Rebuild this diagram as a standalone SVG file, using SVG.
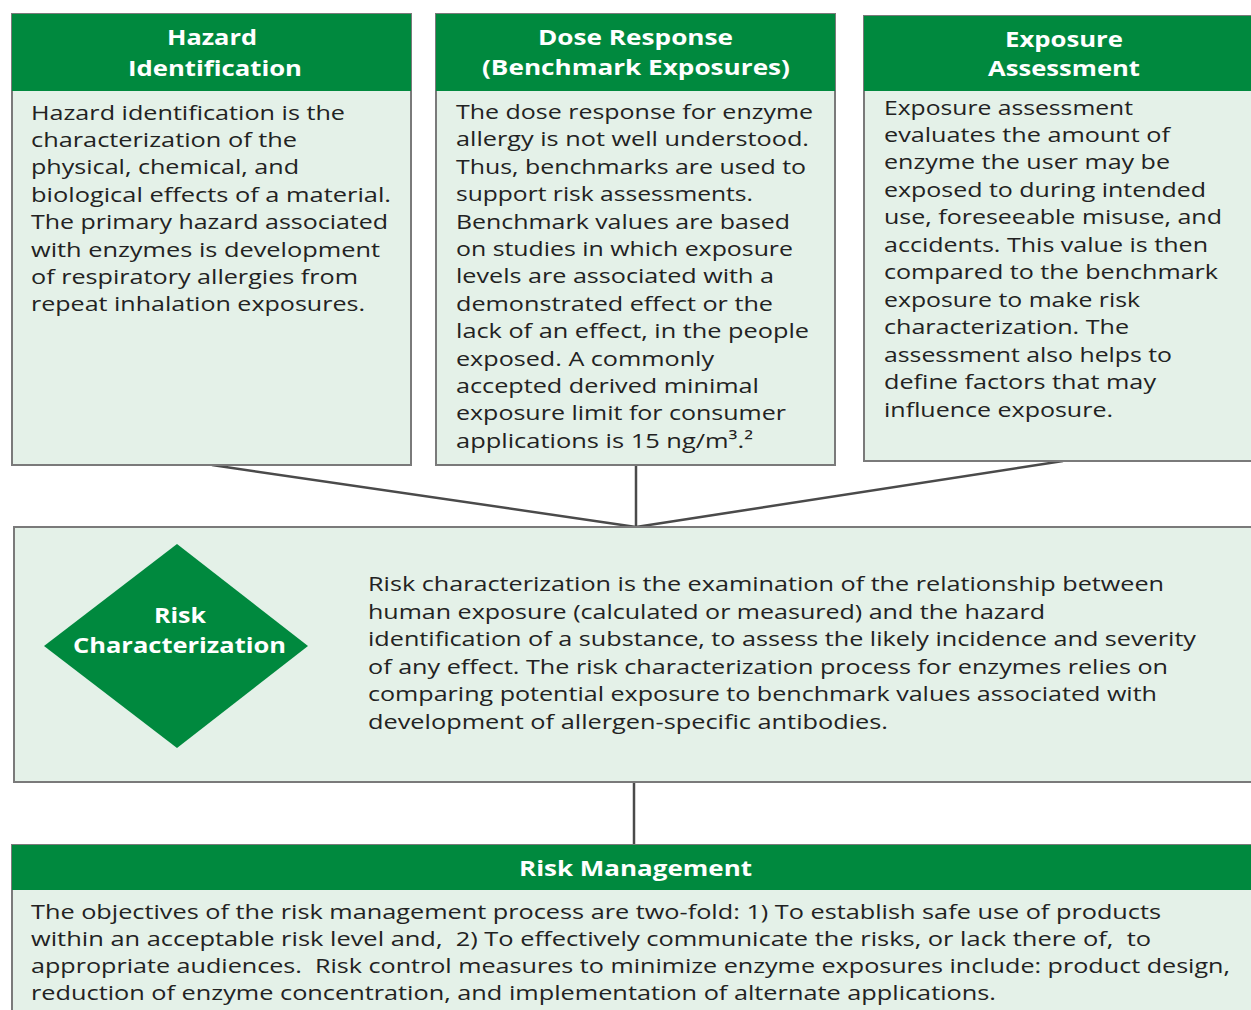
<svg xmlns="http://www.w3.org/2000/svg" width="1251" height="1010" viewBox="0 0 1251 1010">
<style>
.box{fill:#e4f1e8;stroke:#7a7a7a;stroke-width:2}
.hdr{fill:#00893e}
.ht{font-family:"Open Sans","Noto Sans",sans-serif;font-weight:bold;font-size:21px;fill:#ffffff}
.bt{font-family:"Open Sans","Noto Sans",sans-serif;font-size:20.5px;fill:#222222}
.pre{white-space:pre}
.con{stroke:#4a4a4a;stroke-width:2.5;fill:none}
</style>
<rect width="1251" height="1010" fill="#ffffff"/>
<g id="connectors">
<line class="con" x1="212" y1="465" x2="636" y2="527"/>
<line class="con" x1="636" y1="465" x2="636" y2="527"/>
<line class="con" x1="1063" y1="461" x2="636" y2="527"/>
<line class="con" x1="634" y1="782" x2="634" y2="845"/>
</g>
<g id="hazard">
<rect class="box" x="12" y="14" width="399" height="451"/>
<rect class="hdr" x="12" y="14" width="399" height="77"/>
<text class="ht" x="167" y="45" textLength="90" lengthAdjust="spacingAndGlyphs">Hazard</text>
<text class="ht" x="128" y="76" textLength="174" lengthAdjust="spacingAndGlyphs">Identification</text>
<g class="bt">
<text x="31" y="119.5" textLength="314" lengthAdjust="spacingAndGlyphs">Hazard identification is the</text>
<text x="31" y="147" textLength="266" lengthAdjust="spacingAndGlyphs">characterization of the</text>
<text x="31" y="174.3" textLength="268" lengthAdjust="spacingAndGlyphs">physical, chemical, and</text>
<text x="31" y="201.7" textLength="360" lengthAdjust="spacingAndGlyphs">biological effects of a material.</text>
<text x="31" y="229.1" textLength="357" lengthAdjust="spacingAndGlyphs">The primary hazard associated</text>
<text x="31" y="256.5" textLength="349" lengthAdjust="spacingAndGlyphs">with enzymes is development</text>
<text x="31" y="283.9" textLength="327" lengthAdjust="spacingAndGlyphs">of respiratory allergies from</text>
<text x="31" y="311.3" textLength="334" lengthAdjust="spacingAndGlyphs">repeat inhalation exposures.</text>
</g>
</g>
<g id="dose-response">
<rect class="box" x="436" y="14" width="399" height="451"/>
<rect class="hdr" x="436" y="14" width="399" height="77"/>
<text class="ht" x="538" y="45" textLength="195" lengthAdjust="spacingAndGlyphs">Dose Response</text>
<text class="ht" x="482" y="75" textLength="308" lengthAdjust="spacingAndGlyphs">(Benchmark Exposures)</text>
<g class="bt">
<text x="456" y="119" textLength="357" lengthAdjust="spacingAndGlyphs">The dose response for enzyme</text>
<text x="456" y="146.4" textLength="353" lengthAdjust="spacingAndGlyphs">allergy is not well understood.</text>
<text x="456" y="173.8" textLength="350" lengthAdjust="spacingAndGlyphs">Thus, benchmarks are used to</text>
<text x="456" y="201.2" textLength="297" lengthAdjust="spacingAndGlyphs">support risk assessments.</text>
<text x="456" y="228.6" textLength="334" lengthAdjust="spacingAndGlyphs">Benchmark values are based</text>
<text x="456" y="256" textLength="337" lengthAdjust="spacingAndGlyphs">on studies in which exposure</text>
<text x="456" y="283.4" textLength="318" lengthAdjust="spacingAndGlyphs">levels are associated with a</text>
<text x="456" y="310.8" textLength="317" lengthAdjust="spacingAndGlyphs">demonstrated effect or the</text>
<text x="456" y="338.2" textLength="353" lengthAdjust="spacingAndGlyphs">lack of an effect, in the people</text>
<text x="456" y="365.6" textLength="258" lengthAdjust="spacingAndGlyphs">exposed. A commonly</text>
<text x="456" y="393" textLength="303" lengthAdjust="spacingAndGlyphs">accepted derived minimal</text>
<text x="456" y="420.4" textLength="330" lengthAdjust="spacingAndGlyphs">exposure limit for consumer</text>
<text x="456" y="447.8" textLength="297" lengthAdjust="spacingAndGlyphs">applications is 15 ng/m³.²</text>
</g>
</g>
<g id="exposure">
<rect class="box" x="864" y="16" width="400" height="445"/>
<rect class="hdr" x="864" y="16" width="400" height="75"/>
<text class="ht" x="1005" y="47" textLength="118" lengthAdjust="spacingAndGlyphs">Exposure</text>
<text class="ht" x="988" y="76" textLength="152" lengthAdjust="spacingAndGlyphs">Assessment</text>
<g class="bt">
<text x="884" y="114.5" textLength="249" lengthAdjust="spacingAndGlyphs">Exposure assessment</text>
<text x="884" y="142" textLength="286" lengthAdjust="spacingAndGlyphs">evaluates the amount of</text>
<text x="884" y="169.4" textLength="286" lengthAdjust="spacingAndGlyphs">enzyme the user may be</text>
<text x="884" y="196.9" textLength="322" lengthAdjust="spacingAndGlyphs">exposed to during intended</text>
<text x="884" y="224.3" textLength="338" lengthAdjust="spacingAndGlyphs">use, foreseeable misuse, and</text>
<text x="884" y="251.8" textLength="324" lengthAdjust="spacingAndGlyphs">accidents. This value is then</text>
<text x="884" y="279.2" textLength="334" lengthAdjust="spacingAndGlyphs">compared to the benchmark</text>
<text x="884" y="306.7" textLength="256" lengthAdjust="spacingAndGlyphs">exposure to make risk</text>
<text x="884" y="334.1" textLength="245" lengthAdjust="spacingAndGlyphs">characterization. The</text>
<text x="884" y="361.6" textLength="288" lengthAdjust="spacingAndGlyphs">assessment also helps to</text>
<text x="884" y="389" textLength="272" lengthAdjust="spacingAndGlyphs">define factors that may</text>
<text x="884" y="416.5" textLength="229" lengthAdjust="spacingAndGlyphs">influence exposure.</text>
</g>
</g>
<g id="risk-characterization">
<rect class="box" x="14" y="527" width="1250" height="255"/>
<polygon class="hdr" points="177,544 308,646 177,748 44,646"/>
<text class="ht" x="154" y="623" textLength="52" lengthAdjust="spacingAndGlyphs">Risk</text>
<text class="ht" x="73" y="653" textLength="213" lengthAdjust="spacingAndGlyphs">Characterization</text>
<g class="bt">
<text x="368" y="591" textLength="796" lengthAdjust="spacingAndGlyphs">Risk characterization is the examination of the relationship between</text>
<text x="368" y="618.6" textLength="677" lengthAdjust="spacingAndGlyphs">human exposure (calculated or measured) and the hazard</text>
<text x="368" y="646.2" textLength="828" lengthAdjust="spacingAndGlyphs">identification of a substance, to assess the likely incidence and severity</text>
<text x="368" y="673.8" textLength="800" lengthAdjust="spacingAndGlyphs">of any effect. The risk characterization process for enzymes relies on</text>
<text x="368" y="701.4" textLength="789" lengthAdjust="spacingAndGlyphs">comparing potential exposure to benchmark values associated with</text>
<text x="368" y="729" textLength="520" lengthAdjust="spacingAndGlyphs">development of allergen-specific antibodies.</text>
</g>
</g>
<g id="risk-management">
<rect class="box" x="12" y="845" width="1252" height="180"/>
<rect class="hdr" x="12" y="845" width="1252" height="45"/>
<text class="ht" x="519" y="876" textLength="233" lengthAdjust="spacingAndGlyphs">Risk Management</text>
<g class="bt">
<text class="pre" x="31" y="919" textLength="1130" lengthAdjust="spacingAndGlyphs">The objectives of the risk management process are two-fold: 1) To establish safe use of products</text>
<text class="pre" x="31" y="946" textLength="1120" lengthAdjust="spacingAndGlyphs">within an acceptable risk level and,  2) To effectively communicate the risks, or lack there of,  to</text>
<text class="pre" x="31" y="973" textLength="1199" lengthAdjust="spacingAndGlyphs">appropriate audiences.  Risk control measures to minimize enzyme exposures include: product design,</text>
<text class="pre" x="31" y="1000" textLength="965" lengthAdjust="spacingAndGlyphs">reduction of enzyme concentration, and implementation of alternate applications.</text>
</g>
</g>
</svg>
